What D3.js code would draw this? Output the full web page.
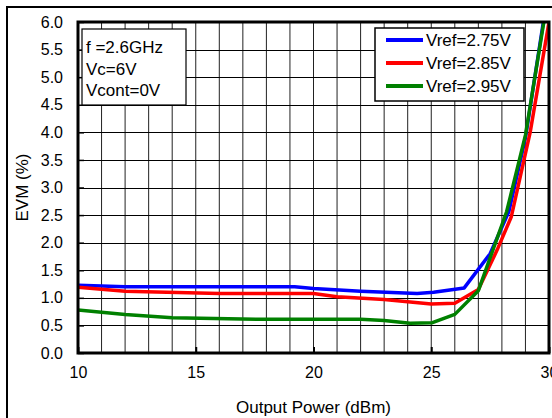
<!DOCTYPE html>
<html><head><meta charset="utf-8">
<script src="https://cdn.jsdelivr.net/npm/d3@7"></script>
<style>body{margin:0;background:#fff}svg{display:block;font-family:Arial,"Liberation Sans",sans-serif}</style>
</head><body><svg id="c" width="552" height="418"></svg>
<script>
const xTicks = [10, 15, 20, 25, 30];
const yTicks = [0, 0.5, 1, 1.5, 2, 2.5, 3, 3.5, 4, 4.5, 5, 5.5, 6];
const seriesNames = ["Vref=2.75V", "Vref=2.85V", "Vref=2.95V"];
const seriesColors = ["#0000ff", "#ff0000", "#008000"];
const blueX = [10, 12, 19.2, 20, 22, 24.4, 25.1, 26.4, 27.5, 28.3, 29.0, 29.76];
const blueY = [1.23, 1.20, 1.20, 1.17, 1.12, 1.08, 1.10, 1.18, 1.80, 2.57, 3.9, 6.0];
const redX = [10, 12, 16, 20, 21, 23, 25, 26, 27, 27.8, 28.4, 29.2, 30];
const redY = [1.19, 1.12, 1.08, 1.08, 1.02, 0.97, 0.89, 0.90, 1.15, 1.87, 2.47, 4.0, 6.0];
const greenX = [10, 12, 14, 18, 22, 23, 24.1, 25.05, 26.0, 27.0, 28.2, 29.0, 29.8];
const greenY = [0.78, 0.70, 0.64, 0.61, 0.61, 0.59, 0.54, 0.55, 0.70, 1.13, 2.56, 3.95, 6.05];
const annotation = ["f =2.6GHz", "Vc=6V", "Vcont=0V"];
const xTitle = "Output Power (dBm)";
const yTitle = "EVM (%)";

const svg = d3.select("#c");
const L = 78, R = 549, T = 22, B = 353;
const x = d3.scaleLinear().domain([10, 30]).range([L, R]);
const y = d3.scaleLinear().domain([0, 6]).range([B, T]);

// outer frame
svg.append("rect").attr("x", 7).attr("y", 7).attr("width", 620).attr("height", 500)
  .attr("fill", "none").attr("stroke", "#000").attr("stroke-width", 2);

// grid
const g = svg.append("g");
g.selectAll(".vg").data(d3.range(11, 30)).join("line")
  .attr("x1", d => x(d)).attr("x2", d => x(d)).attr("y1", T).attr("y2", B)
  .attr("stroke", "#222").attr("stroke-width", 1);
g.selectAll(".hg").data(yTicks.slice(1, -1)).join("line")
  .attr("x1", L).attr("x2", R).attr("y1", d => Math.round(y(d)) + 0.5).attr("y2", d => Math.round(y(d)) + 0.5)
  .attr("stroke", "#000").attr("stroke-width", 1);

// axes
const xa = svg.append("g").attr("transform", `translate(0,${B})`)
  .call(d3.axisBottom(x).tickValues(xTicks).tickSize(-6).tickPadding(14));
xa.select(".domain").remove();
xa.selectAll("text").attr("font-size", 16).attr("fill", "#000").attr("font-family", "Arial, 'Liberation Sans', sans-serif");
xa.selectAll("line").attr("stroke-width", 2);
const ya = svg.append("g").attr("transform", `translate(${L},0)`)
  .call(d3.axisLeft(y).tickValues(yTicks).tickFormat(d3.format(".1f")).tickSize(-6).tickPadding(15));
ya.select(".domain").remove();
ya.selectAll("text").attr("font-size", 16).attr("fill", "#000").attr("font-family", "Arial, 'Liberation Sans', sans-serif");
ya.selectAll("line").attr("stroke-width", 1.5);

// annotation box
const ab = svg.append("g");
ab.append("rect").attr("x", 82).attr("y", 29).attr("width", 104).attr("height", 76)
  .attr("fill", "#fff").attr("stroke", "#000").attr("stroke-width", 1.2);
ab.selectAll("text").data(annotation).join("text")
  .attr("x", 86).attr("y", (d, i) => 53 + i * 21.5).attr("font-size", 17).text(d => d);

// legend
const lg = svg.append("g");
lg.append("rect").attr("x", 375).attr("y", 28).attr("width", 149).attr("height", 73)
  .attr("fill", "#fff").attr("stroke", "#000").attr("stroke-width", 1.5);
seriesNames.forEach((n, i) => {
  const cy = 40 + i * 23;
  lg.append("line").attr("x1", 386).attr("x2", 423).attr("y1", cy).attr("y2", cy)
    .attr("stroke", seriesColors[i]).attr("stroke-width", 4);
  lg.append("text").attr("x", 426).attr("y", cy + 6).attr("font-size", 17).text(n);
});

// lines
svg.append("clipPath").attr("id", "pc").append("rect")
  .attr("x", L).attr("y", T).attr("width", R - L).attr("height", B - T);
const line = d3.line().x(d => x(d[0])).y(d => y(d[1]));
const series = [[blueX, blueY], [redX, redY], [greenX, greenY]];
const lines = svg.append("g").attr("clip-path", "url(#pc)");
series.forEach(([xs, ys], i) => {
  lines.append("path").datum(xs.map((v, j) => [v, ys[j]]))
    .attr("d", line).attr("fill", "none").attr("stroke", seriesColors[i])
    .attr("stroke-width", 3.5).attr("stroke-linejoin", "round");
});

// plot frame
svg.append("rect").attr("x", L).attr("y", T).attr("width", R - L).attr("height", B - T)
  .attr("fill", "none").attr("stroke", "#000").attr("stroke-width", 3);

// titles
svg.append("text").attr("x", (L + R) / 2).attr("y", 413).attr("text-anchor", "middle")
  .attr("font-size", 17).text(xTitle);
svg.append("text").attr("transform", `translate(28,${(T + B) / 2}) rotate(-90)`)
  .attr("text-anchor", "middle").attr("font-size", 17).text(yTitle);
</script></body></html>
